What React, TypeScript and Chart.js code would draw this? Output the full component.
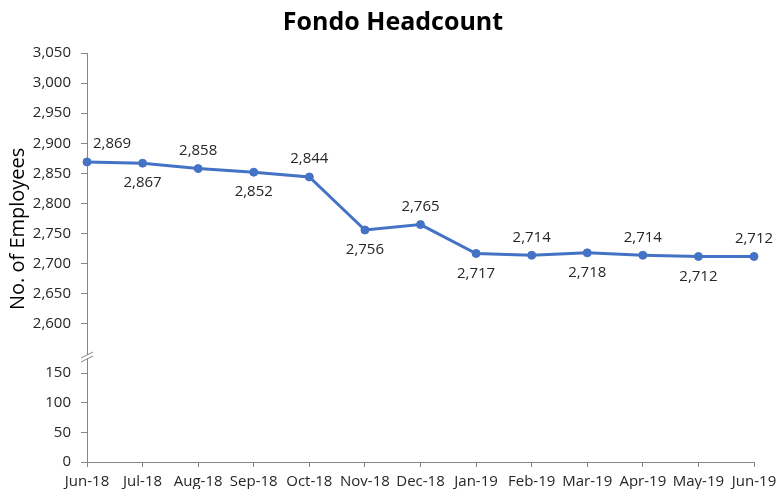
import React, { useEffect, useRef } from 'react';
import { Chart, registerables } from 'chart.js';

Chart.register(...registerables);

const months = ['Jun-18', 'Jul-18', 'Aug-18', 'Sep-18', 'Oct-18', 'Nov-18', 'Dec-18', 'Jan-19', 'Feb-19', 'Mar-19', 'Apr-19', 'May-19', 'Jun-19'];
const headcount = [2869, 2867, 2858, 2852, 2844, 2756, 2765, 2717, 2714, 2718, 2714, 2712, 2712];
const upperTicks = [2600, 2650, 2700, 2750, 2800, 2850, 2900, 2950, 3000, 3050];
const lowerTicks = [0, 50, 100, 150];
const upperRange = [2545, 3050];
const lowerRange = [0, 177];

const FONT = "'Open Sans', 'Noto Sans', sans-serif";
const LINE_COLOR = '#4472C4';
const AXIS_COLOR = '#868686';
const TEXT_COLOR = '#262626';

const dataLabelPlugin = {
  id: 'dataLabels',
  afterDatasetsDraw(chart: any) {
    const ctx = chart.ctx;
    const meta = chart.getDatasetMeta(0);
    ctx.save();
    ctx.font = `15px ${FONT}`;
    ctx.fillStyle = TEXT_COLOR;
    ctx.textBaseline = 'middle';
    meta.data.forEach((pt: any, i: number) => {
      const text = headcount[i].toLocaleString('en-US');
      const above = i % 2 === 0;
      const y = above ? pt.y - 18 : pt.y + 20;
      if (i === 0) {
        ctx.textAlign = 'left';
        ctx.fillText(text, pt.x + 6, y);
      } else {
        ctx.textAlign = 'center';
        ctx.fillText(text, pt.x, y);
      }
    });
    ctx.restore();
  },
};

const axisDecorPlugin = {
  id: 'axisDecor',
  afterDraw(chart: any) {
    const ctx = chart.ctx;
    const top = chart.scales.yTop;
    const bottom = chart.scales.yBottom;
    const area = chart.chartArea;
    const bx = area.left;
    const by = Math.min(top.bottom, bottom.bottom);
    ctx.save();
    // break marker
    ctx.fillStyle = '#ffffff';
    ctx.beginPath();
    ctx.moveTo(bx - 6, by + 1);
    ctx.lineTo(bx + 6, by - 5);
    ctx.lineTo(bx + 6, by - 1);
    ctx.lineTo(bx - 6, by + 5);
    ctx.closePath();
    ctx.fill();
    ctx.strokeStyle = AXIS_COLOR;
    ctx.lineWidth = 1;
    ctx.beginPath();
    ctx.moveTo(bx - 6, by + 1);
    ctx.lineTo(bx + 6, by - 5);
    ctx.moveTo(bx - 6, by + 5);
    ctx.lineTo(bx + 6, by - 1);
    ctx.stroke();
    // vertical axis title
    ctx.fillStyle = '#000000';
    ctx.font = `20px ${FONT}`;
    ctx.textAlign = 'center';
    ctx.textBaseline = 'alphabetic';
    ctx.translate(24, area.top + (area.bottom - area.top) * 0.43);
    ctx.rotate(-Math.PI / 2);
    ctx.fillText('No. of Employees', 0, 0);
    ctx.restore();
  },
};

const yAxisCommon = (allowed: number[]) => ({
  type: 'linear' as const,
  position: 'left' as const,
  stack: 'y',
  offset: false,
  grid: { display: true, drawOnChartArea: false, drawTicks: true, tickLength: 6, color: AXIS_COLOR },
  border: { display: true, color: AXIS_COLOR, width: 1 },
  ticks: {
    stepSize: 50,
    padding: 10,
    autoSkip: false,
    color: TEXT_COLOR,
    font: { family: FONT, size: 15 },
    callback: (v: any) => Number(v).toLocaleString('en-US'),
  },
  afterBuildTicks: (scale: any) => {
    scale.ticks = allowed.map((v) => ({ value: v }));
  },
  afterFit: (scale: any) => {
    scale.width = 55;
  },
});

export default function App() {
  const canvasRef = useRef<HTMLCanvasElement | null>(null);

  useEffect(() => {
    document.body.style.margin = '0';
    const canvas = canvasRef.current;
    if (!canvas) return;
    const chart = new Chart(canvas, {
      type: 'line',
      data: {
        labels: months,
        datasets: [
          {
            data: headcount,
            yAxisID: 'yTop',
            borderColor: LINE_COLOR,
            backgroundColor: LINE_COLOR,
            borderWidth: 3,
            pointRadius: 4,
            pointBackgroundColor: LINE_COLOR,
            pointBorderColor: LINE_COLOR,
            pointBorderWidth: 1,
            tension: 0,
            clip: false,
          },
        ],
      },
      options: {
        responsive: false,
        animation: false,
        layout: { padding: { left: 32, right: 23, top: 0, bottom: 0 } },
        plugins: {
          legend: { display: false },
          tooltip: { enabled: false },
          title: {
            display: true,
            text: 'Fondo Headcount',
            color: '#000000',
            font: { family: FONT, size: 25, weight: 'bold' },
            padding: { top: 8, bottom: 15 },
          },
        },
        scales: {
          x: {
            type: 'category',
            offset: false,
            grid: { display: true, drawOnChartArea: false, drawTicks: true, tickLength: 5, color: AXIS_COLOR },
            border: { display: true, color: AXIS_COLOR, width: 1 },
            ticks: {
              color: TEXT_COLOR,
              font: { family: FONT, size: 15 },
              padding: 6,
              maxRotation: 0,
              autoSkip: false,
            },
            afterFit: (scale: any) => {
              scale.height = 27;
              scale.paddingLeft = 0;
              scale.paddingRight = 0;
            },
          },
          yBottom: {
            ...yAxisCommon(lowerTicks),
            min: lowerRange[0],
            max: lowerRange[1],
            stackWeight: 105,
          },
          yTop: {
            ...yAxisCommon(upperTicks),
            min: upperRange[0],
            max: upperRange[1],
            stackWeight: 304,
          },
        },
      } as any,
      plugins: [dataLabelPlugin, axisDecorPlugin],
    });
    return () => chart.destroy();
  }, []);

  return (
    <div style={{ width: 777, height: 489, background: '#ffffff' }}>
      <canvas ref={canvasRef} width={777} height={489} style={{ display: 'block' }} />
    </div>
  );
}
